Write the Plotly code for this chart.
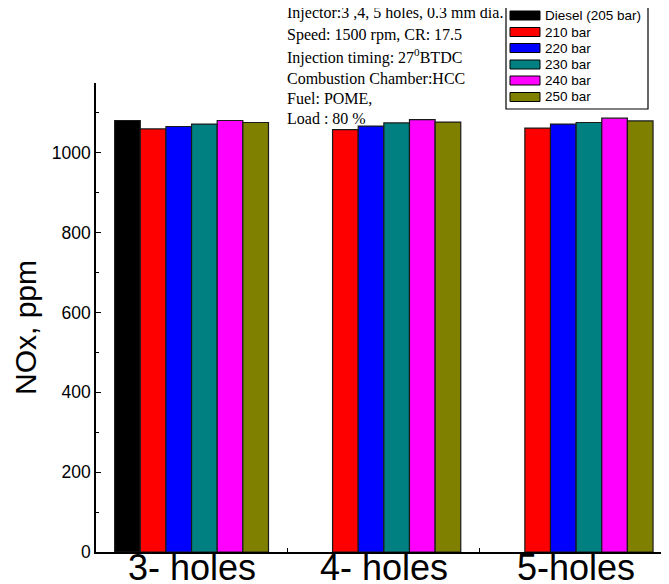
import plotly.graph_objects as go

categories = ["3- holes", "4- holes", "5-holes"]
series_names = ["Diesel (205 bar)", "210 bar", "220 bar", "230 bar", "240 bar", "250 bar"]
diesel_205 = [1081, None, None]
bar_210 = [1060, 1058, 1062]
bar_220 = [1066, 1067, 1072]
bar_230 = [1072, 1075, 1076]
bar_240 = [1081, 1083, 1087]
bar_250 = [1076, 1077, 1080]
series_values = [diesel_205, bar_210, bar_220, bar_230, bar_240, bar_250]
colors = ["#000000", "#FF0000", "#0000FF", "#008080", "#FF00FF", "#808000"]

info_lines = [
    "Injector:3 ,4, 5 holes, 0.3 mm dia.",
    "Speed: 1500 rpm, CR: 17.5",
    "Injection timing: 27<sup>0</sup>BTDC",
    "Combustion Chamber:HCC",
    "Fuel: POME,",
    "Load : 80 %",
]

# page body has an 8px default margin; size the figure so it fills the window
OFF = 8
W, H = 669 - OFF, 584 - OFF
ML, MR, MT, MB = 96 - OFF, 0, 83 - OFF, 584 - 552
PW, PH = W - ML - MR, H - MT - MB


def px(x):
    return (x - OFF - ML) / PW


def py(y):
    return (H - MB - (y - OFF)) / PH


xpos = list(range(len(categories)))
fig = go.Figure()
for name, vals, col in zip(series_names, series_values, colors):
    fig.add_trace(go.Bar(
        x=xpos, y=vals, name=name, marker_color=col,
        marker_line=dict(color="#1a1a1a", width=1.2),
        showlegend=False,
    ))

sans = "Liberation Sans, Arial, sans-serif"
fig.update_layout(
    width=W, height=H,
    margin=dict(l=ML, r=MR, t=MT, b=MB, pad=0, autoexpand=False),
    plot_bgcolor="white", paper_bgcolor="white",
    barmode="group", bargap=0.2, bargroupgap=0,
    xaxis=dict(
        range=[-0.497, 2.483], tickmode="array", tickvals=xpos, showticklabels=False,
        showline=True, linecolor="black", linewidth=1.5, showgrid=False, zeroline=False,
        ticks="", automargin=False,
        minor=dict(tickmode="array", tickvals=[0.5, 1.5], ticks="inside", ticklen=4,
                   tickcolor="black", tickwidth=1, showgrid=False),
    ),
    yaxis=dict(
        range=[0, 1175], tickmode="array", tickvals=[0, 200, 400, 600, 800, 1000],
        showline=True, linecolor="black", linewidth=1.5, showgrid=False, zeroline=False,
        ticks="inside", ticklen=5, tickcolor="black", tickwidth=1, automargin=False,
        tickfont=dict(family=sans, size=17.5, color="black"),
        minor=dict(tickmode="array", tickvals=[100, 300, 500, 700, 900, 1100],
                   ticks="inside", ticklen=3, tickcolor="black", tickwidth=1, showgrid=False),
    ),
)

annotations = [dict(
    text="NOx, ppm", x=px(25), y=py(328), xref="paper", yref="paper",
    textangle=-90, showarrow=False, xanchor="center", yanchor="middle",
    font=dict(family=sans, size=30, color="black"),
)]
for xi, lab in zip(xpos, categories):
    annotations.append(dict(
        text=lab, x=xi, xref="x", y=py(567), yref="paper", showarrow=False,
        xanchor="center", yanchor="middle",
        font=dict(family=sans, size=36, color="black"),
    ))
line_centers = [13, 35, 57, 78, 98, 118]
for t, yc in zip(info_lines, line_centers):
    annotations.append(dict(
        text=t, x=px(285), y=py(yc), xref="paper", yref="paper", showarrow=False,
        xanchor="left", yanchor="middle",
        font=dict(family="Liberation Serif, Times New Roman, serif", size=16, color="black"),
    ))

shapes = [dict(type="rect", xref="paper", yref="paper",
               x0=px(506), x1=px(648), y0=py(109), y1=py(-5),
               line=dict(color="black", width=1.2), fillcolor="white", layer="above")]
leg_centers = [15.5, 32, 48, 64.5, 80.5, 97]
for name, col, yc in zip(series_names, colors, leg_centers):
    shapes.append(dict(type="rect", xref="paper", yref="paper",
                       x0=px(510), x1=px(540), y0=py(yc + 4.5), y1=py(yc - 4.5),
                       line=dict(color="black", width=1), fillcolor=col, layer="above"))
    annotations.append(dict(
        text=name, x=px(543), y=py(yc), xref="paper", yref="paper", showarrow=False,
        xanchor="left", yanchor="middle",
        font=dict(family=sans, size=13.5, color="black"),
    ))

fig.update_layout(annotations=annotations, shapes=shapes)
fig.write_html("out.html")
